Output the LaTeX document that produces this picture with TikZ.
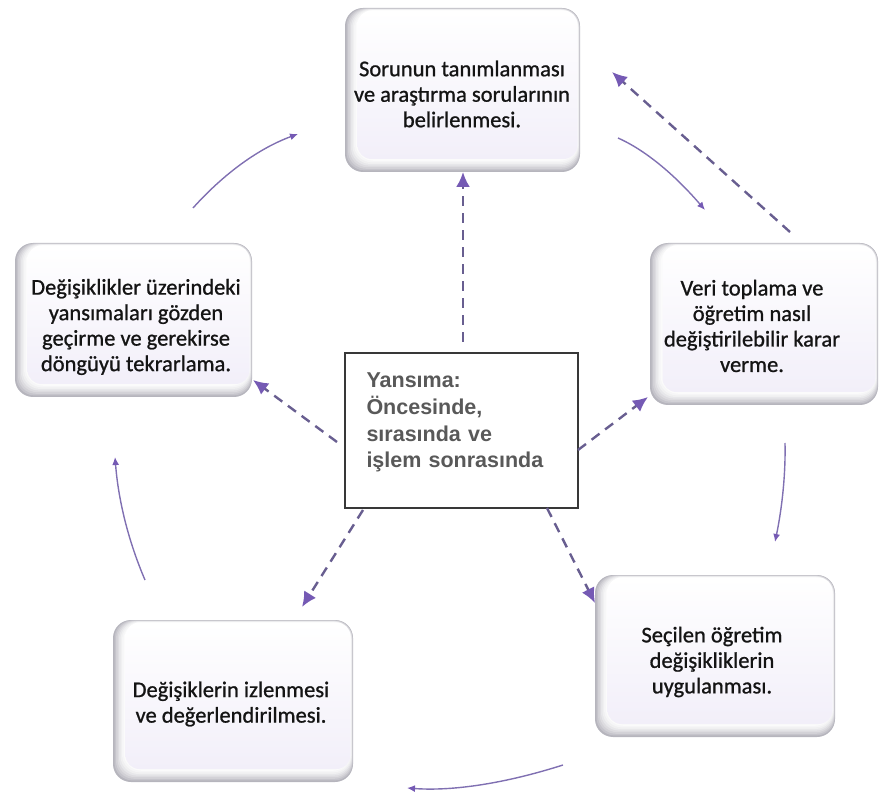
\documentclass[tikz,border=0pt]{standalone}
\usepackage{fontspec}
\setmainfont{Carlito}
\newfontfamily\stepfont{Carlito}[FakeBold=0.9]
\newfontfamily\labelsans{Liberation Sans}
\usetikzlibrary{arrows.meta}

\definecolor{dashcol}{RGB}{104,94,144}
\definecolor{tipcol}{RGB}{117,90,180}
\definecolor{curvecol}{RGB}{128,112,178}
\definecolor{boxedge}{RGB}{40,38,62}
\definecolor{lavtint}{RGB}{242,239,249}

\tikzset{
  steptext/.style={font=\stepfont\fontsize{22.5}{25.5}\selectfont, text=black!92,
                   align=center, inner sep=0pt},
  loopdash/.style={draw=dashcol, line width=2.4pt, dash pattern=on 10pt off 7pt,
                   -{Latex[length=15pt,width=14pt,color=tipcol]}},
  loopcurve/.style={draw=curvecol, line width=1.4pt,
                   -{Latex[length=8pt,width=7pt,color=tipcol]}},
  centrebox/.style={draw=black!78, line width=2pt, fill=white,
                   minimum width=233pt, minimum height=155pt,
                   text width=190pt, align=left, inner sep=0pt,
                   font=\labelsans\bfseries\fontsize{21.5}{26.7}\selectfont,
                   text=black!65},
}

% bevelled step box: name, x1, y1, x2, y2 (box), text x, text y, text
\newcommand\cyclebox[8]{%
  \foreach \lyr/\tone in {0/34,1/27,2/21,3/16,4/11,5/7,6/4,7/2}{%
    \fill[boxedge!\tone, rounded corners=18pt]
      ({#2+1.5*\lyr},{#3+0.3*\lyr}) rectangle ({#4-0.3*\lyr},{#5-1.6*\lyr});
  }%
  \shade[rounded corners=14pt, top color=white, bottom color=lavtint]
      ({#2+12.5},{#3+2.5}) rectangle ({#4-2.5},{#5-13});
  \node[steptext] (#1) at (#6,#7) {#8};
}

\begin{document}
\begin{tikzpicture}[x=1pt,y=-1pt]
\useasboundingbox (0,0) rectangle (879,794);

% the five steps of the cycle
\cyclebox{define}{345}{8}{580}{172}{462}{94}
  {Sorunun tanımlanması\\ve araştırma sorularının\\belirlenmesi.}
\cyclebox{decide}{650}{243}{878}{405}{752}{326}
  {Veri toplama ve\\öğretim nasıl\\değiştirilebilir karar\\verme.}
\cyclebox{apply}{595}{575}{835}{737}{712}{662}
  {Seçilen öğretim\\değişikliklerin\\uygulanması.}
\cyclebox{monitor}{113}{620}{353}{782}{231}{704}
  {Değişiklerin izlenmesi\\ve değerlendirilmesi.}
\cyclebox{review}{15}{243}{252}{397}{136}{327}
  {Değişiklikler üzerindeki\\yansımaları gözden\\geçirme ve gerekirse\\döngüyü tekrarlama.}

% reflection in the middle
\node[centrebox] (cen) at (461.5,430.5)
  {Yansıma:\\Öncesinde,\\sırasında ve\\işlem sonrasında\\[-6.3pt]\mbox{}};

% end points of the connectors
\coordinate (upT)  at (463,342);  \coordinate (upH)  at (463,172);
\coordinate (backT) at (790,232); \coordinate (backH) at (612,72);
\coordinate (rT)  at (578,450);   \coordinate (rH)  at (648,397);
\coordinate (lT)  at (337,442);   \coordinate (lH)  at (253,380);
\coordinate (blT) at (363,510);   \coordinate (blH) at (302,607);
\coordinate (brT) at (547,508);   \coordinate (brH) at (595,603);

\coordinate (c1a) at (193,208); \coordinate (c1b) at (298,134);
\coordinate (c2a) at (618,138); \coordinate (c2b) at (705,210);
\coordinate (c3a) at (785,443); \coordinate (c3b) at (775,542);
\coordinate (c4a) at (563,765); \coordinate (c4b) at (407,788);
\coordinate (c5a) at (145,580); \coordinate (c5b) at (115,457);

% dashed links from the reflection box
\draw[loopdash] (upT) -- (upH);
\draw[loopdash] (backT) -- (backH);
\draw[loopdash] (rT) -- (rH);
\draw[loopdash] (lT) -- (lH);
\draw[loopdash] (blT) -- (blH);
\draw[loopdash] (brT) -- (brH);

% curved arrows of the cycle
\draw[loopcurve] (c1a) .. controls (224.7,172.7) and (259.7,148) .. (c1b);
\draw[loopcurve] (c2a) .. controls (645,150) and (674,174) .. (c2b);
\draw[loopcurve] (c3a) .. controls (785.7,473) and (782.3,506.7) .. (c3b);
\draw[loopcurve] (c4a) .. controls (504.3,783.7) and (452.3,791.3) .. (c4b);
\draw[loopcurve] (c5a) .. controls (128.3,541) and (118.3,500) .. (c5b);
\end{tikzpicture}
\end{document}
